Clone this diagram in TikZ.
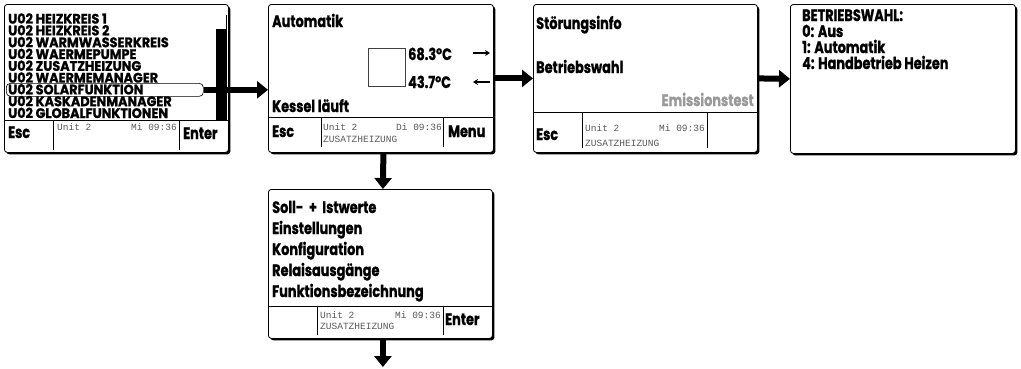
\documentclass[tikz,border=0pt]{standalone}
\usepackage{fontspec}
\newfontfamily\fut{Poppins}[FakeStretch=0.78,FakeBold=1]
\newfontfamily\futl{Poppins}[FakeStretch=0.93,FakeBold=1]
\newfontfamily\lmono{Liberation Mono}
\usetikzlibrary{arrows.meta,shadows}
\begin{document}
\begin{tikzpicture}[x=1pt,y=-1pt,
 box/.style={draw, line width=0.8pt, rounded corners=3pt, fill=white, anchor=north west, inner sep=0pt,
   drop shadow={shadow xshift=2pt, shadow yshift=-2pt, fill=black, opacity=1}},
 lbl/.style={anchor=base west, inner sep=0pt, font=\fut\bfseries\fontsize{16.5}{16.5}\selectfont},
 lst/.style={anchor=base west, inner sep=0pt, text height=9.5pt, text depth=0pt,
   font=\futl\bfseries\fontsize{13.8}{13.8}\selectfont},
 mono/.style={anchor=base west, inner sep=0pt, text=black!65, font=\lmono\fontsize{9.5}{9.5}\selectfont},
 monor/.style={mono, anchor=base east},
 sep/.style={line width=0.6pt},
 bigarrow/.style={line width=6pt, -{Triangle[length=11pt,width=17pt]}},
 tarrow/.style={line width=1.2pt, -{Stealth[length=5pt,width=6pt]}}
]
\useasboundingbox (0,0) rectangle (1021,368);

% ---------- Box 1 ----------
\node[box, minimum width=224pt, minimum height=148pt] (b1) at (4,4) {};
\node[draw, line width=0.6pt, rounded corners=4pt, minimum width=197pt, minimum height=13pt,
      anchor=north west, inner sep=0pt] (hl) at (6,83) {};
\node[lst] (l1) at (8,23.6) {U02 HEIZKREIS 1};
\node[lst] (l2) at (8,35.4) {U02 HEIZKREIS 2};
\node[lst] (l3) at (8,47.2) {U02 WARMWASSERKREIS};
\node[lst] (l4) at (8,59.0) {U02 WAERMEPUMPE};
\node[lst] (l5) at (8,70.8) {U02 ZUSATZHEIZUNG};
\node[lst] (l6) at (8,82.6) {U02 WAERMEMANAGER};
\node[lst] (l7) at (8,94.4) {U02 SOLARFUNKTION};
\node[lst] (l8) at (8,106.2) {U02 KASKADENMANAGER};
\node[lst] (l9) at (8,118.0) {U02 GLOBALFUNKTIONEN};
\draw[line width=0.6pt] (226,15) -- (226,120);
\fill (216,29) rectangle (226,120);
\draw[sep] (4,120) -- (228,120);
\draw[sep] (53,120) -- (53,150);
\draw[sep] (179,120) -- (179,150);
\node[lbl] (esc1) at (8,138) {Esc};
\node[lbl] (ent1) at (183,139) {Enter};
\node[mono] (u1) at (57,130) {Unit 2};
\node[monor] (t1) at (177,130) {Mi 09:36};

% ---------- Box 2 ----------
\node[box, minimum width=225pt, minimum height=148pt] (b2) at (268,4) {};
\node[lbl] (auto) at (272,27) {Automatik};
\draw[line width=0.6pt, black!75] (368,48) rectangle (405,86);
\node[lbl] (tv) at (408,60) {68.3°C};
\node[lbl] (tr) at (408,88) {43.7°C};
\draw[tarrow] (473,53) -- (490,53);
\draw[tarrow] (490,82) -- (473,82);
\node[lbl] (kes) at (272,112) {Kessel läuft};
\draw[sep] (268,117) -- (493,117);
\draw[sep] (321,117) -- (321,147);
\draw[sep] (443,117) -- (443,147);
\node[lbl] (esc2) at (272,137) {Esc};
\node[lbl] (menu) at (448,137) {Menu};
\node[mono] (u2) at (323,130) {Unit 2};
\node[monor] (t2) at (442,130) {Di 09:36};
\node[mono] (z2) at (323,142) {ZUSATZHEIZUNG};

% ---------- Box 3 ----------
\node[box, minimum width=224pt, minimum height=148pt] (b3) at (533,4) {};
\node[lbl] (stoer) at (536,29) {Störungsinfo};
\node[lbl] (bw) at (536,73) {Betriebswahl};
\node[lbl, anchor=base east, text=black!40] (emi) at (754,106) {Emissionstest};
\draw[sep] (533,112) -- (757,112);
\draw[sep] (582,112) -- (582,148);
\draw[sep] (707,112) -- (707,148);
\node[lbl] (esc3) at (536,140) {Esc};
\node[mono] (u3) at (585,131) {Unit 2};
\node[monor] (t3) at (705,131) {Mi 09:36};
\node[mono] (z3) at (585,146) {ZUSATZHEIZUNG};

% ---------- Box 4 ----------
\node[box, minimum width=225pt, minimum height=149pt] (b4) at (790,4) {};
\node[lbl] (h4) at (802,21) {BETRIEBSWAHL:};
\node[lbl] (o0) at (802,37) {0: Aus};
\node[lbl] (o1) at (802,53) {1: Automatik};
\node[lbl] (o4) at (802,69) {4: Handbetrieb Heizen};

% ---------- Box 5 ----------
\node[box, minimum width=224pt, minimum height=149pt] (b5) at (268,189) {};
\node[lbl] (m1) at (272,213) {Soll-\, + \,Istwerte};
\node[lbl] (m2) at (272,234) {Einstellungen};
\node[lbl] (m3) at (272,255) {Konfiguration};
\node[lbl] (m4) at (272,276) {Relaisausgänge};
\node[lbl] (m5) at (272,297) {Funktionsbezeichnung};
\draw[sep] (268,306) -- (492,306);
\draw[sep] (317,306) -- (317,335);
\draw[sep] (443,306) -- (443,335);
\node[mono] (u5) at (320,318) {Unit 2};
\node[monor] (t5) at (441,318) {Mi 09:36};
\node[mono] (z5) at (320,329) {ZUSATZHEIZUNG};
\node[lbl] (ent5) at (445,325) {Enter};

% ---------- Arrows ----------
\draw[bigarrow] (hl.east) -- (hl.east -| b2.west);
\draw[bigarrow] (b2.east) -- (b3.west);
\draw[bigarrow] (b3.east) -- (b4.west);
\draw[bigarrow] ([xshift=2.5pt]b2.south) -- ([xshift=2.5pt]b5.north);
\coordinate (endp) at ([xshift=2.5pt]b5.south |- 0,367);
\draw[bigarrow] ([xshift=2.5pt]b5.south) -- (endp);
\end{tikzpicture}
\end{document}
